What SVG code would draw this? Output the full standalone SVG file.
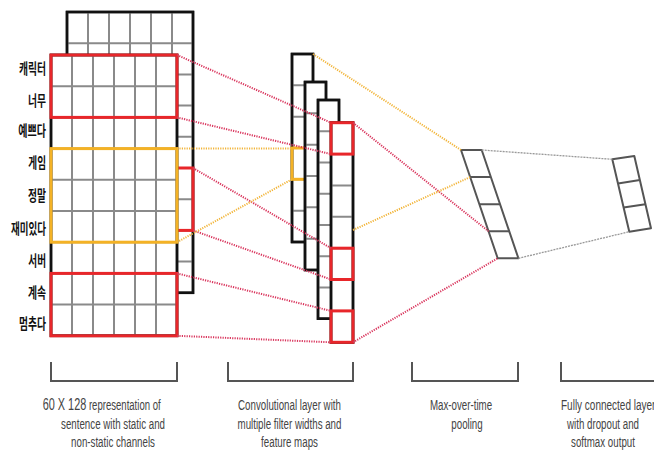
<svg xmlns="http://www.w3.org/2000/svg" width="654" height="450" viewBox="0 0 654 450">
<defs>
<style>
.box{fill:#fff;stroke:#111;stroke-width:2.5}
.grid{fill:none;stroke:#8a8a8a;stroke-width:2}
.red{fill:none;stroke:#e8262a;stroke-width:3}
.org{fill:none;stroke:#f4b225;stroke-width:3}
.dr{fill:none;stroke:#d9345c;stroke-width:2;stroke-dasharray:1.2 1.2}
.do{fill:none;stroke:#f2b53a;stroke-width:2;stroke-dasharray:1.2 1.2}
.dg{fill:none;stroke:#999;stroke-width:1.3;stroke-dasharray:2 1}
.pool{fill:#fff;stroke:#555;stroke-width:2;stroke-linejoin:round}
.brk{fill:none;stroke:#555;stroke-width:2}
.kr{font-family:"Noto Sans CJK KR","Liberation Sans",sans-serif;font-size:15px;font-weight:bold;fill:#111}
.cap{font-family:"Liberation Sans",Arial,sans-serif;font-size:14.5px;fill:#444}
.mid{text-anchor:middle}
</style>
</defs>

<g id="back-matrix">
<rect class="box" x="67" y="12" width="126" height="280.8"/>
<path class="grid" d="M88,12V292.8M109,12V292.8M130,12V292.8M151,12V292.8M172,12V292.8M67,43.2H193M67,74.4H193M67,105.6H193M67,136.8H193M67,168H193M67,199.2H193M67,230.4H193M67,261.6H193"/>
<rect fill="none" stroke="#111" stroke-width="2.5" x="67" y="12" width="126" height="280.8"/>
<rect class="red" x="67" y="168" width="126" height="62.4"/>
</g>

<g id="front-matrix">
<rect class="box" x="51" y="55" width="126" height="280.8"/>
<path class="grid" d="M72,55V335.8M93,55V335.8M114,55V335.8M135,55V335.8M156,55V335.8M51,86.2H177M51,117.4H177M51,148.6H177M51,179.8H177M51,211H177M51,242.2H177M51,273.4H177M51,304.6H177"/>
<rect fill="none" stroke="#111" stroke-width="2.5" x="51" y="55" width="126" height="280.8"/>
<rect class="red" x="51" y="55" width="126" height="62.4"/>
<rect class="org" x="51" y="148.6" width="126" height="93.6"/>
<rect class="red" x="51" y="273.4" width="126" height="62.4"/>
</g>

<g id="word-labels">
<text class="kr" x="19" y="73.5" textLength="27" lengthAdjust="spacingAndGlyphs">캐릭터</text>
<text class="kr" x="28" y="105.5" textLength="18" lengthAdjust="spacingAndGlyphs">너무</text>
<text class="kr" x="18.3" y="135.5" textLength="27.7" lengthAdjust="spacingAndGlyphs">예쁘다</text>
<text class="kr" x="28.3" y="167.5" textLength="17.7" lengthAdjust="spacingAndGlyphs">게임</text>
<text class="kr" x="28" y="200.5" textLength="18" lengthAdjust="spacingAndGlyphs">정말</text>
<text class="kr" x="11" y="233.5" textLength="35" lengthAdjust="spacingAndGlyphs">재미있다</text>
<text class="kr" x="28.3" y="265.5" textLength="17.7" lengthAdjust="spacingAndGlyphs">서버</text>
<text class="kr" x="28" y="297.5" textLength="18" lengthAdjust="spacingAndGlyphs">계속</text>
<text class="kr" x="19" y="329" textLength="27" lengthAdjust="spacingAndGlyphs">멈추다</text>
</g>

<g id="feature-map-1">
<rect class="box" x="292" y="54" width="21" height="188"/>
<path class="grid" d="M292,85.3H313M292,116.7H313M292,148H313M292,179.3H313M292,210.7H313"/>
<rect fill="none" stroke="#111" stroke-width="2.5" x="292" y="54" width="21" height="188"/>
<rect class="org" stroke-width="2.5" x="292" y="148" width="21" height="31.3"/>
</g>
<g id="feature-map-2">
<rect class="box" x="305" y="82" width="21" height="188"/>
<path class="grid" d="M305,113.3H326M305,144.7H326M305,176H326M305,207.3H326M305,238.7H326"/>
<rect fill="none" stroke="#111" stroke-width="2.5" x="305" y="82" width="21" height="188"/>
</g>
<g id="feature-map-3">
<rect class="box" x="318" y="100" width="21" height="218.7"/>
<path class="grid" d="M318,131.2H339M318,162.5H339M318,193.7H339M318,225H339M318,256.2H339M318,287.5H339"/>
<rect fill="none" stroke="#111" stroke-width="2.5" x="318" y="100" width="21" height="218.7"/>
</g>
<g id="feature-map-4">
<rect class="box" x="331" y="122.7" width="22" height="219.6"/>
<path class="grid" d="M331,154.1H353M331,185.4H353M331,216.8H353M331,248.2H353M331,279.5H353M331,310.9H353"/>
<rect fill="none" stroke="#111" stroke-width="2.5" x="331" y="122.7" width="22" height="219.6"/>
<rect class="red" x="331" y="122.7" width="22" height="31.4"/>
<rect class="red" x="331" y="248.2" width="22" height="31.3"/>
<rect class="red" x="331" y="310.9" width="22" height="31.4"/>
</g>

<g id="pooling">
<path class="pool" d="M461,150H481.7L518.4,258.3H497.7Z"/>
<path class="pool" d="M470.2,177.1H490.9M479.4,204.2H500.1M488.5,231.2H509.2"/>
</g>

<g id="fully-connected">
<path class="pool" d="M612.3,159.3L634.3,156L651,228.3L629.3,231.7Z"/>
<path class="pool" d="M618,183.4L639.9,180.1M623.6,207.6L645.4,204.2"/>
</g>

<g id="connectors">
<path class="dr" d="M177,55L331,122.7"/>
<path class="dr" d="M177,117.4L331,154.1"/>
<path class="dr" d="M193,168L331,248.2"/>
<path class="dr" d="M193,230.4L331,279.5"/>
<path class="dr" d="M177,273.4L331,310.9"/>
<path class="dr" d="M177,335.8L331,342.3"/>
<path class="do" d="M177,148.6H292"/>
<path class="do" d="M177,242.2L292,179.3"/>
<path class="dr" d="M353,122.7L488.5,231.2"/>
<path class="dr" d="M353,342.3L497.7,258.3"/>
<path class="do" d="M313,54L461,150"/>
<path class="do" d="M353,230L470.2,177.1"/>
<path class="dg" d="M481.7,150L612.3,159.3"/>
<path class="dg" d="M518.4,258.3L629.3,231.7"/>
</g>

<g id="captions">
<path class="brk" d="M51,362V381H177V362"/>
<path class="brk" d="M228,362V381H353V362"/>
<path class="brk" d="M412,362V381H518V362"/>
<path class="brk" d="M561,362V381H660"/>
<text class="cap" transform="translate(42.7,410) scale(0.66,1)"><tspan style="font-size:16.5px">60 X 128</tspan> representation of</text>
<text class="cap mid" transform="translate(113,429) scale(0.672,1)">sentence with static and</text>
<text class="cap mid" transform="translate(113,447) scale(0.672,1)">non-static channels</text>
<text class="cap mid" transform="translate(289.5,410) scale(0.672,1)">Convolutional layer with</text>
<text class="cap mid" transform="translate(289.5,429) scale(0.672,1)">multiple filter widths and</text>
<text class="cap mid" transform="translate(289.5,447) scale(0.672,1)">feature maps</text>
<text class="cap mid" transform="translate(461,410) scale(0.672,1)">Max-over-time</text>
<text class="cap mid" transform="translate(467,429) scale(0.672,1)">pooling</text>
<text class="cap" transform="translate(561,410) scale(0.69,1)">Fully connected layer</text>
<text class="cap mid" transform="translate(603,429) scale(0.672,1)">with dropout and</text>
<text class="cap mid" transform="translate(603,447) scale(0.672,1)">softmax output</text>
</g>
</svg>
